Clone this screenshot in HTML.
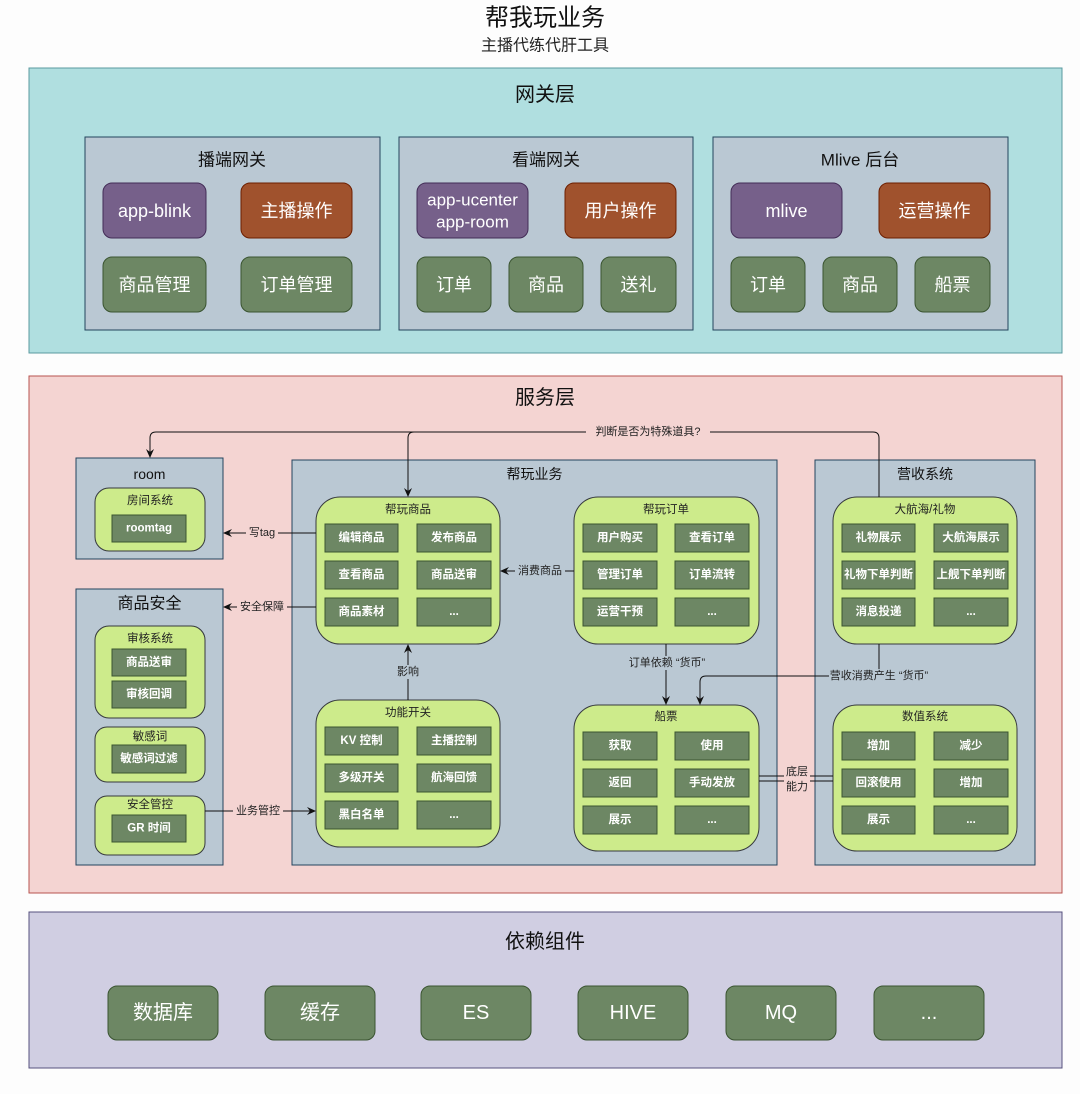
<!DOCTYPE html>
<html><head><meta charset="utf-8"><style>
html,body{margin:0;padding:0;background:#fdfdfd;}
svg{display:block;font-family:"Liberation Sans","Noto Sans CJK SC",sans-serif;}
.t{text-anchor:middle;dominant-baseline:central;}
.w{fill:#fff;}
.b{font-weight:bold;font-size:11.5px;fill:#fff;}
.st{font-size:11.5px;fill:#222;}
.lb{font-size:11px;fill:#222;}
.it{fill:#6d8764;stroke:#3a5431;stroke-width:1;}
.gr{fill:#cdeb8b;stroke:#36393d;stroke-width:1;}
.gy{fill:#bac8d3;stroke:#23445d;stroke-width:1;}
.ln{stroke:#111;stroke-width:1;fill:none;}
</style></head><body>
<svg width="1080" height="1094" viewBox="0 0 1080 1094">
<defs><marker id="a" markerWidth="10" markerHeight="10" refX="8" refY="5" orient="auto" markerUnits="userSpaceOnUse"><path d="M0,1 L9,5 L0,9 L3,5 z" fill="#111"/></marker></defs>
<text x="545" y="18" class="t" font-size="24" fill="#111">帮我玩业务</text>
<text x="545" y="46" class="t" font-size="16" fill="#222">主播代练代肝工具</text>

<!-- gateway -->
<rect x="29" y="68" width="1033" height="285" fill="#b0dfe0" stroke="#5a9aa0"/>
<text x="545" y="95" class="t" font-size="20" fill="#111">网关层</text>
<rect x="85" y="137" width="295" height="193" fill="#bac8d3" stroke="#23445d"/>
<rect x="399" y="137" width="294" height="193" fill="#bac8d3" stroke="#23445d"/>
<rect x="713" y="137" width="295" height="193" fill="#bac8d3" stroke="#23445d"/>
<text x="232" y="160" class="t" font-size="17" fill="#111">播端网关</text>
<text x="546" y="160" class="t" font-size="17" fill="#111">看端网关</text>
<text x="860" y="160" class="t" font-size="17" fill="#111">Mlive 后台</text>
<g font-size="18">
<rect x="103" y="183" width="103" height="55" rx="9" fill="#76608a" stroke="#432d57"/><text x="154.5" y="211" class="t w">app-blink</text>
<rect x="241" y="183" width="111" height="55" rx="9" fill="#a0522d" stroke="#6d1f00"/><text x="296.5" y="211" class="t w">主播操作</text>
<rect x="103" y="257" width="103" height="55" rx="9" fill="#6d8764" stroke="#3a5431"/><text x="154.5" y="285" class="t w">商品管理</text>
<rect x="241" y="257" width="111" height="55" rx="9" fill="#6d8764" stroke="#3a5431"/><text x="296.5" y="285" class="t w">订单管理</text>
<rect x="417" y="183" width="111" height="55" rx="9" fill="#76608a" stroke="#432d57"/><text x="472.5" y="200" class="t w" font-size="17">app-ucenter</text><text x="472.5" y="222" class="t w" font-size="17">app-room</text>
<rect x="565" y="183" width="111" height="55" rx="9" fill="#a0522d" stroke="#6d1f00"/><text x="620.5" y="211" class="t w">用户操作</text>
<rect x="417" y="257" width="74" height="55" rx="9" fill="#6d8764" stroke="#3a5431"/><text x="454" y="285" class="t w">订单</text>
<rect x="509" y="257" width="74" height="55" rx="9" fill="#6d8764" stroke="#3a5431"/><text x="546" y="285" class="t w">商品</text>
<rect x="601" y="257" width="75" height="55" rx="9" fill="#6d8764" stroke="#3a5431"/><text x="638.5" y="285" class="t w">送礼</text>
<rect x="731" y="183" width="111" height="55" rx="9" fill="#76608a" stroke="#432d57"/><text x="786.5" y="211" class="t w">mlive</text>
<rect x="879" y="183" width="111" height="55" rx="9" fill="#a0522d" stroke="#6d1f00"/><text x="934.5" y="211" class="t w">运营操作</text>
<rect x="731" y="257" width="74" height="55" rx="9" fill="#6d8764" stroke="#3a5431"/><text x="768" y="285" class="t w">订单</text>
<rect x="823" y="257" width="74" height="55" rx="9" fill="#6d8764" stroke="#3a5431"/><text x="860" y="285" class="t w">商品</text>
<rect x="915" y="257" width="75" height="55" rx="9" fill="#6d8764" stroke="#3a5431"/><text x="952.5" y="285" class="t w">船票</text>
</g>

<!-- service -->
<rect x="29" y="376" width="1033" height="517" fill="#f4d4d2" stroke="#b85450"/>
<text x="545" y="398" class="t" font-size="20" fill="#111">服务层</text>
<rect x="76" y="458" width="147" height="101" class="gy"/>
<text x="149.5" y="474" class="t" font-size="14" fill="#111">room</text>
<rect x="95" y="488" width="110" height="63" rx="14" class="gr"/>
<text x="150" y="501" class="t st">房间系统</text>
<rect x="112" y="515" width="74" height="27" class="it"/><text x="149" y="528.5" class="t b">roomtag</text>

<rect x="76" y="589" width="147" height="276" class="gy"/>
<text x="149.5" y="604" class="t" font-size="16" fill="#111">商品安全</text>
<rect x="95" y="626" width="110" height="92" rx="14" class="gr"/>
<text x="150" y="639" class="t st">审核系统</text>
<rect x="112" y="649" width="74" height="27" class="it"/><text x="149" y="662.5" class="t b">商品送审</text>
<rect x="112" y="681" width="74" height="27" class="it"/><text x="149" y="694.5" class="t b">审核回调</text>
<rect x="95" y="727" width="110" height="55" rx="12" class="gr"/>
<text x="150" y="737" class="t st">敏感词</text>
<rect x="112" y="745" width="74" height="28" class="it"/><text x="149" y="759" class="t b">敏感词过滤</text>
<rect x="95" y="796" width="110" height="59" rx="12" class="gr"/>
<text x="150" y="805" class="t st">安全管控</text>
<rect x="112" y="815" width="74" height="27" class="it"/><text x="149" y="828.5" class="t b">GR 时间</text>

<rect x="292" y="460" width="485" height="405" class="gy"/>
<text x="534.5" y="474" class="t" font-size="14" fill="#111">帮玩业务</text>
<rect x="815" y="460" width="220" height="405" class="gy"/>
<text x="925" y="474" class="t" font-size="14" fill="#111">营收系统</text>

<!-- groups -->
<g>
<rect x="316" y="497" width="184" height="147" rx="24" class="gr"/><text x="408" y="510" class="t st">帮玩商品</text>
<rect x="325" y="524" width="73" height="28" class="it"/><text x="361.5" y="538" class="t b">编辑商品</text>
<rect x="417" y="524" width="74" height="28" class="it"/><text x="454" y="538" class="t b">发布商品</text>
<rect x="325" y="561" width="73" height="28" class="it"/><text x="361.5" y="575" class="t b">查看商品</text>
<rect x="417" y="561" width="74" height="28" class="it"/><text x="454" y="575" class="t b">商品送审</text>
<rect x="325" y="598" width="73" height="28" class="it"/><text x="361.5" y="612" class="t b">商品素材</text>
<rect x="417" y="598" width="74" height="28" class="it"/><text x="454" y="612" class="t b">...</text>

<rect x="316" y="700" width="184" height="147" rx="24" class="gr"/><text x="408" y="713" class="t st">功能开关</text>
<rect x="325" y="727" width="73" height="28" class="it"/><text x="361.5" y="741" class="t b">KV 控制</text>
<rect x="417" y="727" width="74" height="28" class="it"/><text x="454" y="741" class="t b">主播控制</text>
<rect x="325" y="764" width="73" height="28" class="it"/><text x="361.5" y="778" class="t b">多级开关</text>
<rect x="417" y="764" width="74" height="28" class="it"/><text x="454" y="778" class="t b">航海回馈</text>
<rect x="325" y="801" width="73" height="28" class="it"/><text x="361.5" y="815" class="t b">黑白名单</text>
<rect x="417" y="801" width="74" height="28" class="it"/><text x="454" y="815" class="t b">...</text>

<rect x="574" y="497" width="185" height="147" rx="24" class="gr"/><text x="666" y="510" class="t st">帮玩订单</text>
<rect x="583" y="524" width="74" height="28" class="it"/><text x="620" y="538" class="t b">用户购买</text>
<rect x="675" y="524" width="74" height="28" class="it"/><text x="712" y="538" class="t b">查看订单</text>
<rect x="583" y="561" width="74" height="28" class="it"/><text x="620" y="575" class="t b">管理订单</text>
<rect x="675" y="561" width="74" height="28" class="it"/><text x="712" y="575" class="t b">订单流转</text>
<rect x="583" y="598" width="74" height="28" class="it"/><text x="620" y="612" class="t b">运营干预</text>
<rect x="675" y="598" width="74" height="28" class="it"/><text x="712" y="612" class="t b">...</text>

<rect x="574" y="705" width="185" height="146" rx="24" class="gr"/><text x="666" y="717" class="t st">船票</text>
<rect x="583" y="732" width="74" height="28" class="it"/><text x="620" y="746" class="t b">获取</text>
<rect x="675" y="732" width="74" height="28" class="it"/><text x="712" y="746" class="t b">使用</text>
<rect x="583" y="769" width="74" height="28" class="it"/><text x="620" y="783" class="t b">返回</text>
<rect x="675" y="769" width="74" height="28" class="it"/><text x="712" y="783" class="t b">手动发放</text>
<rect x="583" y="806" width="74" height="28" class="it"/><text x="620" y="820" class="t b">展示</text>
<rect x="675" y="806" width="74" height="28" class="it"/><text x="712" y="820" class="t b">...</text>

<rect x="833" y="497" width="184" height="147" rx="24" class="gr"/><text x="925" y="510" class="t st">大航海/礼物</text>
<rect x="842" y="524" width="73" height="28" class="it"/><text x="878.5" y="538" class="t b">礼物展示</text>
<rect x="934" y="524" width="74" height="28" class="it"/><text x="971" y="538" class="t b">大航海展示</text>
<rect x="842" y="561" width="73" height="28" class="it"/><text x="878.5" y="575" class="t b">礼物下单判断</text>
<rect x="934" y="561" width="74" height="28" class="it"/><text x="971" y="575" class="t b">上舰下单判断</text>
<rect x="842" y="598" width="73" height="28" class="it"/><text x="878.5" y="612" class="t b">消息投递</text>
<rect x="934" y="598" width="74" height="28" class="it"/><text x="971" y="612" class="t b">...</text>

<rect x="833" y="705" width="184" height="146" rx="24" class="gr"/><text x="925" y="717" class="t st">数值系统</text>
<rect x="842" y="732" width="73" height="28" class="it"/><text x="878.5" y="746" class="t b">增加</text>
<rect x="934" y="732" width="74" height="28" class="it"/><text x="971" y="746" class="t b">减少</text>
<rect x="842" y="769" width="73" height="28" class="it"/><text x="878.5" y="783" class="t b">回滚使用</text>
<rect x="934" y="769" width="74" height="28" class="it"/><text x="971" y="783" class="t b">增加</text>
<rect x="842" y="806" width="73" height="28" class="it"/><text x="878.5" y="820" class="t b">展示</text>
<rect x="934" y="806" width="74" height="28" class="it"/><text x="971" y="820" class="t b">...</text>
</g>

<!-- connectors -->
<path d="M879,497 V438 Q879,432 873,432 H156 Q150,432 150,438 V457" class="ln" marker-end="url(#a)"/>
<path d="M414,432 Q408,432 408,438 V496" class="ln" marker-end="url(#a)"/>
<rect x="586" y="425" width="124" height="14" fill="#f4d4d2"/>
<text x="648" y="432" class="t lb">判断是否为特殊道具?</text>

<path d="M316,533 H224" class="ln" marker-end="url(#a)"/>
<rect x="246" y="526" width="32" height="14" fill="#f4d4d2"/><text x="262" y="533" class="t lb">写tag</text>
<path d="M316,607 H224" class="ln" marker-end="url(#a)"/>
<rect x="237" y="600" width="50" height="14" fill="#f4d4d2"/><text x="262" y="607" class="t lb">安全保障</text>
<path d="M574,571 H501" class="ln" marker-end="url(#a)"/>
<rect x="515" y="564" width="50" height="14" fill="#bac8d3"/><text x="540" y="571" class="t lb">消费商品</text>
<path d="M408,700 V645" class="ln" marker-end="url(#a)"/>
<rect x="395" y="665" width="26" height="14" fill="#bac8d3"/><text x="408" y="672" class="t lb">影响</text>
<path d="M205,811 H315" class="ln" marker-end="url(#a)"/>
<rect x="233" y="804" width="50" height="14" fill="#f4d4d2"/><text x="258" y="811" class="t lb">业务管控</text>
<path d="M666,644 V704" class="ln" marker-end="url(#a)"/>
<rect x="627" y="656" width="80" height="14" fill="#bac8d3"/><text x="667" y="663" class="t lb">订单依赖 “货币”</text>
<path d="M879,644 V676 H706 Q700,676 700,682 V704" class="ln" marker-end="url(#a)"/>
<rect x="829" y="669" width="100" height="14" fill="#bac8d3"/><text x="879" y="676" class="t lb">营收消费产生 “货币”</text>
<path d="M759,776 H833 M759,781 H833" class="ln"/>
<rect x="784" y="764" width="26" height="30" fill="#f4d4d2"/>
<text x="797" y="772" class="t lb">底层</text><text x="797" y="787" class="t lb">能力</text>

<!-- deps -->
<rect x="29" y="912" width="1033" height="156" fill="#d0cee2" stroke="#56517e"/>
<text x="545" y="942" class="t" font-size="20" fill="#111">依赖组件</text>
<g font-size="20">
<rect x="108" y="986" width="110" height="54" rx="9" fill="#6d8764" stroke="#3a5431"/><text x="163" y="1013" class="t w">数据库</text>
<rect x="265" y="986" width="110" height="54" rx="9" fill="#6d8764" stroke="#3a5431"/><text x="320" y="1013" class="t w">缓存</text>
<rect x="421" y="986" width="110" height="54" rx="9" fill="#6d8764" stroke="#3a5431"/><text x="476" y="1013" class="t w">ES</text>
<rect x="578" y="986" width="110" height="54" rx="9" fill="#6d8764" stroke="#3a5431"/><text x="633" y="1013" class="t w">HIVE</text>
<rect x="726" y="986" width="110" height="54" rx="9" fill="#6d8764" stroke="#3a5431"/><text x="781" y="1013" class="t w">MQ</text>
<rect x="874" y="986" width="110" height="54" rx="9" fill="#6d8764" stroke="#3a5431"/><text x="929" y="1013" class="t w">...</text>
</g>
</svg>
</body></html>
